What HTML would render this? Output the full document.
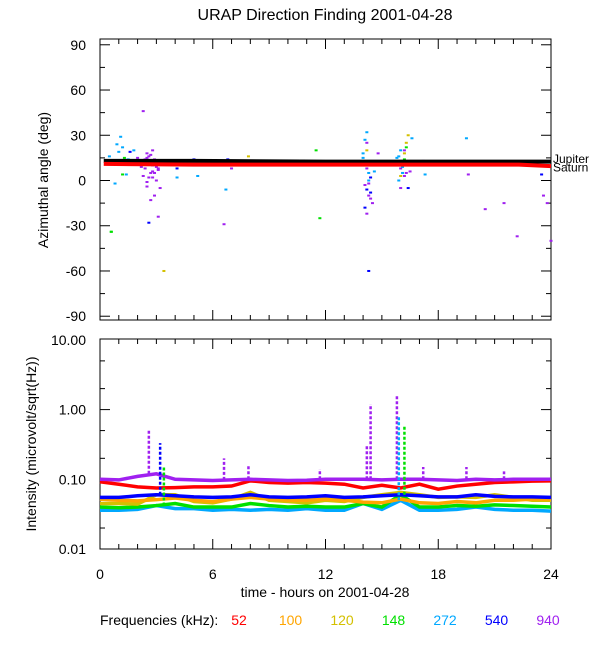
<!DOCTYPE html>
<html><head><meta charset="utf-8"><style>
body{margin:0;background:#fff;}
svg{display:block;font-family:"Liberation Sans",sans-serif;}
</style></head><body>
<svg id="chart" width="600" height="650">
<text x="325" y="20" font-size="16" text-anchor="middle">URAP Direction Finding  2001-04-28</text>
<g id="topPanel"></g>
<g id="botPanel"></g>
<text transform="translate(48,180) rotate(-90)" font-size="14" text-anchor="middle">Azimuthal angle (deg)</text>
<text transform="translate(36,444) rotate(-90)" font-size="14" text-anchor="middle">Intensity (microvolt/sqrt(Hz))</text>
<text x="325" y="597" font-size="14" text-anchor="middle">time - hours on 2001-04-28</text>
<g id="legend"></g>
</svg>
<script>
const freqs=["52","100","120","148","272","540","940"];
const colors=["#ff0000","#ffa500","#d4c000","#00e000","#00a8ff","#0000ff","#a020f0"];
const xTicks=[0,6,12,18,24];
const angTicks=[90,60,30,0,-30,-60,-90];
const intTicks=[10,1,0.1,0.01];
const intTickLabels=["10.00","1.00","0.10","0.01"];
const jupiterAngle=[13,13,12.5,12.5,12.5];
const saturnAngle=[11,10.5,10.5,10.5,9.5];
const lineTimes=[0.2,5,12,22.3,24];
// scatter: time, angle, freq index
const scatT=[0.5,0.7,0.9,1.0,1.1,1.2,1.3,1.4,1.5,0.6,0.8,1.6,1.8,2.0,2.2,2.4,2.5,2.6,2.7,2.8,2.9,3.0,3.1,2.5,2.7,2.9,3.1,2.6,2.8,3.0,3.2,2.3,4.1,4.1,5.0,5.1,5.2,6.7,6.8,7.0,7.9,8.0,11.5,14.1,14.2,14.3,14.4,14.5,14.2,14.3,14.6,14.8,15.8,15.9,16.0,16.1,16.2,16.3,16.4,16.5,16.6,17.2,17.3,19.5,19.6,20.5,21.5,22.2,23.5,23.6,23.8,24.0,0.6,3.4,6.6,1.2,11.7,
 14.0,14.1,14.2,14.3,14.4,14.1,14.2,14.3,14.0,14.2,14.3,14.4,14.1,14.2,14.3,14.2,
 15.8,15.9,16.0,16.1,16.2,16.3,16.0,16.1,16.2,15.9,16.0,16.3,16.4,16.2,16.1,16.5,
 2.2,2.4,2.6,2.8,3.0,2.3,2.5,2.7,2.9,3.1,2.4,2.6,2.8,3.0,2.5,2.7];
const scatA=[16,12,24,19,29,22,15,4,14,-34,-2,19,20,15,9,13,18,16,5,2,14,12,8,-4,-13,-10,-24,-28,20,0,-5,46,8,2,14,10,3,-6,14,8,16,11,20,27,10,-2,-8,-15,32,-60,6,18,13,16,3,10,20,5,-5,12,28,13,4,28,4,-19,-15,-37,4,-10,-15,-40,-34,-60,-29,4,-25,
 15,12,8,5,2,-3,-6,-10,18,20,0,-12,-18,-22,10,25,
 15,12,8,5,18,22,20,10,3,0,-5,25,30,14,9,6,
 10,8,12,6,9,3,15,11,5,7,14,2,10,13,-1,17];
const scatF=[4,4,4,4,4,4,3,4,4,3,4,5,4,6,6,6,6,6,6,6,6,6,6,6,6,6,6,5,6,6,6,6,5,4,5,4,4,4,5,6,2,6,3,4,5,6,5,6,4,5,4,6,3,4,2,6,6,6,5,2,4,6,4,4,6,6,6,6,5,6,6,6,3,2,6,3,3,
 4,3,6,4,5,6,5,6,4,2,4,6,5,6,3,6,
 4,3,6,4,2,3,4,5,6,4,6,2,2,3,4,6,
 6,6,6,6,6,6,6,6,6,6,6,6,6,6,6,6];
const sTimes=[0,1,2,3,4,5,6,7,8,9,10,11,12,13,14,15,16,17,18,19,20,21,22,23,24];
const s52=[0.092,0.085,0.078,0.075,0.076,0.078,0.078,0.08,0.095,0.09,0.088,0.09,0.088,0.085,0.075,0.082,0.075,0.085,0.072,0.08,0.085,0.09,0.092,0.094,0.095];
const s100=[0.052,0.05,0.049,0.051,0.054,0.05,0.048,0.052,0.055,0.052,0.05,0.05,0.052,0.05,0.047,0.046,0.052,0.046,0.045,0.048,0.046,0.05,0.05,0.052,0.052];
const s120=[0.045,0.045,0.044,0.06,0.06,0.048,0.046,0.052,0.065,0.05,0.048,0.046,0.05,0.048,0.055,0.06,0.065,0.06,0.055,0.056,0.055,0.06,0.055,0.05,0.05];
const s148=[0.04,0.039,0.04,0.042,0.045,0.04,0.04,0.04,0.045,0.042,0.04,0.041,0.04,0.04,0.045,0.04,0.06,0.04,0.04,0.042,0.041,0.043,0.042,0.041,0.04];
const s272=[0.036,0.036,0.037,0.042,0.038,0.038,0.036,0.037,0.036,0.037,0.036,0.038,0.036,0.036,0.045,0.037,0.05,0.036,0.036,0.037,0.04,0.037,0.036,0.036,0.035];
const s540=[0.055,0.055,0.058,0.06,0.058,0.056,0.055,0.056,0.06,0.056,0.055,0.056,0.058,0.055,0.056,0.058,0.06,0.058,0.056,0.056,0.06,0.057,0.056,0.056,0.055];
const s940=[0.1,0.098,0.11,0.12,0.1,0.098,0.096,0.098,0.1,0.098,0.096,0.097,0.1,0.1,0.1,0.098,0.1,0.1,0.098,0.096,0.1,0.098,0.1,0.1,0.1];
const series=[s52,s100,s120,s148,s272,s540,s940];
const spikeT=[2.6,3.2,3.4,6.6,7.9,11.7,14.2,14.4,15.8,15.9,16.2,17.2,19.5,21.5];
const spikeV=[0.5,0.33,0.15,0.2,0.16,0.14,0.3,1.2,1.6,0.8,0.6,0.15,0.15,0.13];
const spikeF=[6,5,3,6,6,6,6,6,6,4,3,6,6,6];

const NS="http://www.w3.org/2000/svg";
const X0=100,X1=551;
const x=t=>X0+(X1-X0)*t/24;
const ya=v=>180.5-v*1.508;
const yi=v=>549-(Math.log10(v)+2)*69.7;
function el(p,tag,at){const e=document.createElementNS(NS,tag);for(const k in at)e.setAttribute(k,at[k]);p.appendChild(e);return e;}
const topG=document.getElementById('topPanel'),botG=document.getElementById('botPanel');

const f1=el(topG,'rect',{x:X0,y:39,width:X1-X0,height:281,fill:'none',stroke:'#000'});


const f2=el(botG,'rect',{x:X0,y:339,width:X1-X0,height:210,fill:'none',stroke:'#000'});



for(let h=0;h<=24;h++){
 const xx=x(h),len=h%6==0?10:5;
 [[39,1],[320,-1],[339,1],[549,-1]].forEach(([yy,d])=>{el(topG,'line',{x1:xx,x2:xx,y1:yy,y2:yy+d*len,stroke:'#000'});});
}
xTicks.forEach(t=>{
 const tx=el(botG,'text',{x:x(t),y:579,'font-size':14,'text-anchor':'middle'});tx.textContent=t;
 
 
});
for(let v=-90;v<=90;v+=15){
 const yy=ya(v),len=v%30==0?10:5;
 el(topG,'line',{x1:X0,x2:X0+len,y1:yy,y2:yy,stroke:'#000'});
 el(topG,'line',{x1:X1,x2:X1-len,y1:yy,y2:yy,stroke:'#000'});
}
angTicks.forEach(v=>{
 const tx=el(topG,'text',{x:86,y:ya(v)+5,'font-size':14,'text-anchor':'end'});tx.textContent=v;
 
 
});
for(let d=-2;d<1;d++)for(let m=1;m<10;m++){
 const v=m*Math.pow(10,d),yy=yi(v),len=m==1?10:5;
 if(m==1||m==2||m==5){el(botG,'line',{x1:X0,x2:X0+len,y1:yy,y2:yy,stroke:'#000'});el(botG,'line',{x1:X1,x2:X1-len,y1:yy,y2:yy,stroke:'#000'});}
}
intTicks.forEach((v,i)=>{
 const tx=el(botG,'text',{x:86,y:yi(v)+5,'font-size':14,'text-anchor':'end'});tx.textContent=intTickLabels[i];
 
 
});

scatT.forEach((t,i)=>{
 const r=el(topG,'rect',{x:x(t)-1.5,y:ya(scatA[i])-1,width:3,height:2,fill:colors[scatF[i]]});
 
 
});
function pl(arr){return lineTimes.map((t,i)=>x(t)+','+ya(arr[i])).join(' ');}
const jl=el(topG,'polyline',{points:pl(jupiterAngle),fill:'none',stroke:'#000','stroke-width':4});


const sl=el(topG,'polyline',{points:pl(saturnAngle),fill:'none',stroke:'#ff0000','stroke-width':4});


const jt=el(topG,'text',{x:553,y:ya(13)+2,'font-size':12});jt.textContent='Jupiter';


const st=el(topG,'text',{x:553,y:ya(10)+6,'font-size':12});st.textContent='Saturn';



[4,3,2,1,0,5,6].forEach(k=>{
 const p=el(botG,'polyline',{points:sTimes.map((t,i)=>x(t)+','+yi(series[k][i])).join(' '),fill:'none',stroke:colors[k],'stroke-width':3.5});
 
 
});
spikeT.forEach((t,i)=>{
 const base=series[spikeF[i]][Math.round(t)];
 const l=el(botG,'line',{x1:x(t),x2:x(t),y1:yi(base),y2:yi(spikeV[i]),stroke:colors[spikeF[i]],'stroke-width':2.5,'stroke-dasharray':'3,2'});
 
 
});

const lg=document.getElementById('legend');
const lt=el(lg,'text',{x:100,y:625,'font-size':14});lt.textContent='Frequencies (kHz):';


freqs.forEach((f,i)=>{
 const t=el(lg,'text',{x:239+i*51.5,y:625,'font-size':14,'text-anchor':'middle',fill:colors[i]});t.textContent=f;
 
 
});
</script>
</body></html>
